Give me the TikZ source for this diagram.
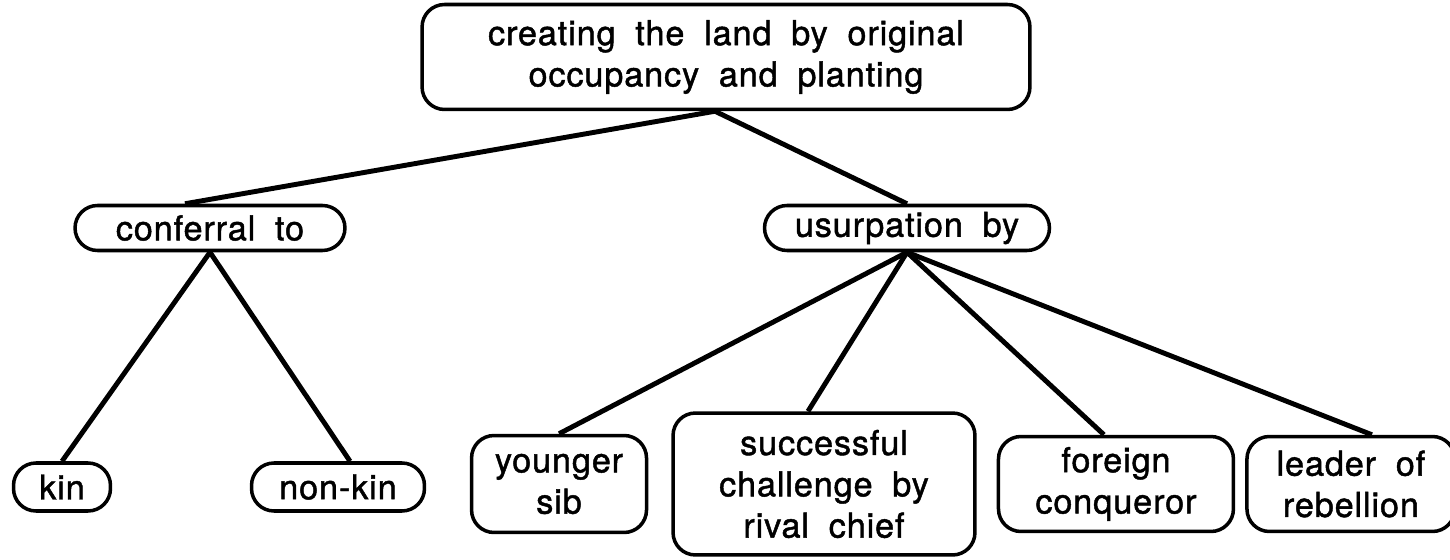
\documentclass[tikz,border=0pt]{standalone}
\usepackage{fontspec}
\setmainfont[WordSpace=1.9,LetterSpace=2.5,FakeBold=1.3]{TeX Gyre Heros}
\usetikzlibrary{positioning}

\tikzset{
	box/.style={draw,line width=2pt,rounded corners=0.45cm,align=center,inner sep=0pt,
		font=\fontsize{19.5pt}{23.5pt}\selectfont},
	link/.style={line width=2.8pt}
}

\begin{document}
\begin{tikzpicture}[x=0.02cm,y=-0.02cm]
		\useasboundingbox (0,0) rectangle (1450,560);

		\node[box,minimum width=12.16cm,minimum height=2.1cm]	at (726,57)		(root)		{creating the land by original\\occupancy and planting};
		\node[box,minimum width=5.4cm,minimum height=0.9cm]		at (210,228)	(conferral)	{conferral to};
		\node[box,minimum width=5.7cm,minimum height=0.9cm]		at (907,228)	(usurp)		{usurpation by};

		\node[box,minimum width=1.94cm,minimum height=0.96cm]	at (62,487)		(kin)		{kin};
		\node[box,minimum width=3.46cm,minimum height=0.96cm]	at (338,487)	(nonkin)	{non-kin};

		\node[box,minimum width=6.04cm,minimum height=2.84cm]	at (824,484)	(challenge)	{successful\\challenge by\\rival chief};
		\node[box,minimum width=3.5cm,minimum height=1.94cm,left=0.46cm of challenge]	(sib)		{younger\\sib};
		\node[box,minimum width=4.7cm,minimum height=1.9cm,right=0.4cm of challenge]	(conqueror)	{foreign\\conqueror};
		\node[box,minimum width=4.16cm,minimum height=1.9cm,right=0.2cm of conqueror]	(rebel)		{leader of\\rebellion};

		\draw[link]	([xshift=-0.22cm]root.south)	--	([xshift=-0.5cm]conferral.north);
		\draw[link]	([xshift=-0.22cm]root.south)	--	(usurp.north);
		\draw[link]	(conferral.south)	--	(kin.north);
		\draw[link]	(conferral.south)	--	([xshift=0.24cm]nonkin.north);
		\draw[link]	(usurp.south)	--	(sib.north);
		\draw[link]	(usurp.south)	--	([xshift=-0.32cm]challenge.north);
		\draw[link]	(usurp.south)	--	([xshift=-0.24cm]conqueror.north);
		\draw[link]	(usurp.south)	--	([xshift=0.42cm]rebel.north);
	\end{tikzpicture}
\end{document}
